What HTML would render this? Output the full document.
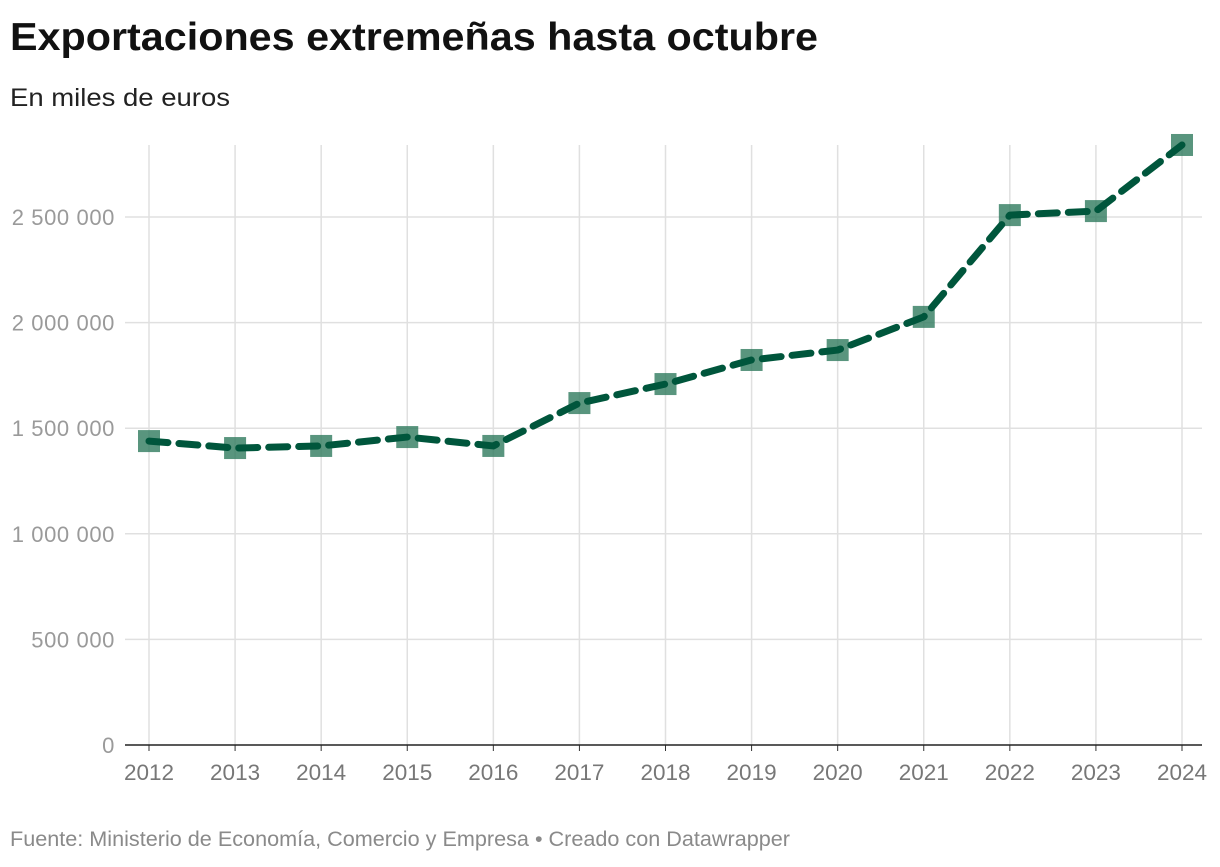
<!DOCTYPE html>
<html><head><meta charset="utf-8"><style>
body{margin:0;background:#fff;font-family:"Liberation Sans",Roboto,sans-serif;}
svg text{font-family:"Liberation Sans",sans-serif;}
</style></head><body>
<svg id="c" width="1220" height="862" xmlns="http://www.w3.org/2000/svg">
<text x="10" y="50" font-size="39" font-weight="bold" fill="#111" textLength="808" lengthAdjust="spacingAndGlyphs">Exportaciones extremeñas hasta octubre</text>
<text x="10" y="106" font-size="25" fill="#222" textLength="220" lengthAdjust="spacingAndGlyphs">En miles de euros</text>
<text x="10" y="846" font-size="21" fill="#8a8a8a" textLength="780" lengthAdjust="spacingAndGlyphs">Fuente: Ministerio de Economía, Comercio y Empresa • Creado con Datawrapper</text>
<g id="grid"></g><g id="marks"></g>
</svg>
<script>
const years=["2012","2013","2014","2015","2016","2017","2018","2019","2020","2021","2022","2023","2024"];
const values=[1439000,1406000,1416000,1458000,1416000,1619000,1709000,1823000,1870000,2027000,2509000,2528000,2841000];
const yTicks=[0,500000,1000000,1500000,2000000,2500000];
const yTickLabels=["0","500 000","1 000 000","1 500 000","2 000 000","2 500 000"];
const NS="http://www.w3.org/2000/svg";
const x=i=>149+i*(1182-149)/(years.length-1);
const y=v=>745-v*(745-217)/2500000;
function mk(t,a,p){const e=document.createElementNS(NS,t);for(const k in a)e.setAttribute(k,a[k]);p.appendChild(e);return e;}
const g=document.getElementById('grid'),m=document.getElementById('marks');
yTicks.forEach((t,i)=>{
 if(t>0){const l=mk('line',{x1:125,x2:1202,y1:y(t),y2:y(t),stroke:'#e0e0e0','stroke-width':1.5},g);
 
 }
 const tx=mk('text',{x:115,y:y(t)+8,'text-anchor':'end','font-size':22,fill:'#9a9a9a','letter-spacing':'0.6'},g);tx.textContent=yTickLabels[i];
 
 
});
years.forEach((yr,i)=>{
 const l=mk('line',{x1:x(i),x2:x(i),y1:145,y2:745,stroke:'#e0e0e0','stroke-width':1.5},g);
 
 
 const tk=mk('line',{x1:x(i),x2:x(i),y1:745,y2:751,stroke:'#333','stroke-width':1},g);
 
 
 const tx=mk('text',{x:x(i),y:780,'text-anchor':'middle','font-size':22.5,fill:'#777'},g);tx.textContent=yr;
 
 
});
const base=mk('line',{x1:125,x2:1202,y1:745,y2:745,stroke:'#222','stroke-width':1.5},g);


values.forEach((v,i)=>{
 const r=mk('rect',{x:x(i)-11,y:y(v)-11,width:22,height:22,fill:'#2f7a5e','fill-opacity':0.8},m);
 
 
});
const pl=mk('polyline',{points:values.map((v,i)=>x(i)+','+y(v)).join(' '),fill:'none',stroke:'#00563c','stroke-width':7,'stroke-dasharray':'19 11','stroke-linecap':'round','stroke-linejoin':'round'},m);


</script>
</body></html>
